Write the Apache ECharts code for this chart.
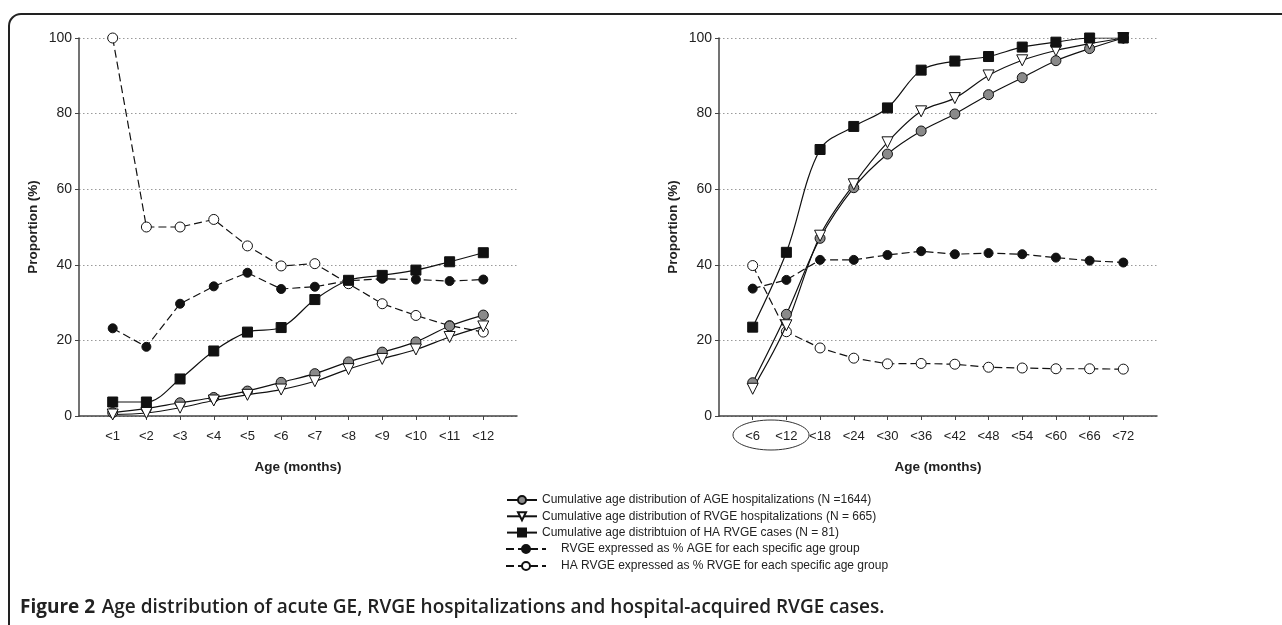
<!DOCTYPE html>
<html>
<head>
<meta charset="utf-8">
<script src="https://cdn.jsdelivr.net/npm/echarts@6/dist/echarts.min.js"></script>
<style>
html,body{margin:0;padding:0;background:#fff;}
#chart{width:1282px;height:625px;}
</style>
</head>
<body>
<div id="chart"></div>
<script>
// ---- Data ----
const leftCats = ['<1','<2','<3','<4','<5','<6','<7','<8','<9','<10','<11','<12'];
const rightCats = ['<6','<12','<18','<24','<30','<36','<42','<48','<54','<60','<66','<72'];
const yTicks = [0, 20, 40, 60, 80, 100];

// Left panel (months 1-12)
const leftAGE   = [0.9, 2.0, 3.5, 4.9, 6.6, 8.9, 11.2, 14.3, 16.9, 19.6, 23.8, 26.7];
const leftRVGE  = [0.4, 0.8, 2.2, 4.1, 5.6, 7.0, 9.2, 12.4, 15.1, 17.6, 20.9, 23.7];
const leftHA    = [3.7, 3.7, 9.8, 17.2, 22.2, 23.4, 30.8, 35.9, 37.2, 38.6, 40.8, 43.2];
const leftRVGEpctAGE = [23.2, 18.3, 29.7, 34.3, 37.9, 33.6, 34.2, 35.8, 36.3, 36.1, 35.7, 36.1];
const leftHApctRVGE  = [100, 50.0, 50.0, 52.0, 45.0, 39.7, 40.3, 35.0, 29.7, 26.6, 23.9, 22.2];

// Right panel (months 6-72)
const rightAGE  = [8.8, 26.9, 47.0, 60.4, 69.3, 75.4, 79.9, 85.0, 89.5, 94.0, 97.2, 100];
const rightRVGE = [7.2, 24.0, 47.7, 61.3, 72.4, 80.6, 84.1, 90.1, 94.1, 96.7, 98.5, 100];
const rightHA   = [23.5, 43.3, 70.5, 76.6, 81.5, 91.5, 93.9, 95.1, 97.6, 98.9, 100, 100];
const rightRVGEpctAGE = [33.7, 36.0, 41.3, 41.3, 42.6, 43.6, 42.8, 43.1, 42.8, 41.9, 41.1, 40.6];
const rightHApctRVGE  = [39.8, 22.3, 18.0, 15.3, 13.8, 13.9, 13.7, 12.9, 12.7, 12.5, 12.5, 12.4];

const names = [
  'Cumulative age distribution of AGE hospitalizations (N =1644)',
  'Cumulative age distribution of RVGE hospitalizations (N = 665)',
  'Cumulative age distribtuion of HA RVGE cases (N = 81)',
  'RVGE expressed as % AGE for each specific age group',
  'HA RVGE expressed as % RVGE for each specific age group'
];
const caption = 'Figure 2';
const captionRest = 'Age distribution of acute GE, RVGE hospitalizations and hospital-acquired RVGE cases.';
const xName = 'Age (months)';
const yName = 'Proportion (%)';

// ---- Chart ----
const chart = echarts.init(document.getElementById('chart'));
const FONT = 'Liberation Sans, Arial, sans-serif';

function pairs(cats, vals){ return cats.map((c,i)=>[c, vals[i]]); }

function xAxisFor(gridIndex, cats){
  return {
    type: 'category', gridIndex: gridIndex, boundaryGap: false,
    data: [''].concat(cats).concat(['']),
    name: xName, nameLocation: 'middle', nameGap: 44,
    nameTextStyle: {fontFamily: FONT, fontWeight: 'bold', fontSize: 13.5, color: '#222'},
    axisLine: {lineStyle: {color: '#444', width: 1.5}},
    axisTick: {show: true, length: 4, lineStyle: {color: '#444'},
      interval: function(i){ return i > 0 && i <= cats.length; }},
    axisLabel: {fontFamily: FONT, fontSize: 13, color: '#222', margin: 14, interval: 0},
    splitLine: {show: false}
  };
}
function yAxisFor(gridIndex){
  return {
    type: 'value', gridIndex: gridIndex, min: yTicks[0], max: yTicks[yTicks.length-1], interval: 20,
    name: yName, nameLocation: 'middle', nameGap: 39,
    nameTextStyle: {fontFamily: FONT, fontWeight: 'bold', fontSize: 13.5, color: '#222'},
    axisLine: {show: true, lineStyle: {color: '#444', width: 1.5}},
    axisTick: {show: true, length: 4, lineStyle: {color: '#444'}},
    axisLabel: {fontFamily: FONT, fontSize: 14, color: '#222', margin: 7},
    splitLine: {show: true, lineStyle: {color: '#9a9a9a', type: [1.5, 2.5], width: 1}}
  };
}

const styles = [
  {symbol: 'circle', symbolSize: 10, color: '#8a8a8a', dashed: false, rotate: 0},
  {symbol: 'triangle', symbolSize: 11, color: '#ffffff', dashed: false, rotate: 180},
  {symbol: 'rect', symbolSize: 10, color: '#111111', dashed: false, rotate: 0},
  {symbol: 'circle', symbolSize: 9, color: '#111111', dashed: true, rotate: 0},
  {symbol: 'circle', symbolSize: 10, color: '#ffffff', dashed: true, rotate: 0}
];

function mkSeries(idx, gi, cats, vals){
  const s = styles[idx];
  return {
    type: 'line', name: names[idx], xAxisIndex: gi, yAxisIndex: gi,
    data: pairs(cats, vals),
    smooth: s.dashed ? false : 0.35,
    symbol: s.symbol, symbolSize: s.symbolSize, symbolRotate: s.rotate,
    showAllSymbol: true,
    itemStyle: {color: s.color, borderColor: '#111', borderWidth: 1},
    lineStyle: {color: '#111', width: 1.2, type: s.dashed ? [8, 4] : 'solid'},
    emphasis: {disabled: true},
    z: idx < 3 ? 3 : 2,
    animation: false
  };
}

const leftSets = [leftAGE, leftRVGE, leftHA, leftRVGEpctAGE, leftHApctRVGE];
const rightSets = [rightAGE, rightRVGE, rightHA, rightRVGEpctAGE, rightHApctRVGE];
const series = [];
leftSets.forEach((v,i)=>series.push(mkSeries(i, 0, leftCats, v)));
rightSets.forEach((v,i)=>series.push(mkSeries(i, 1, rightCats, v)));

const option = {
  backgroundColor: '#fff',
  animation: false,
  grid: [
    {left: 79, top: 38, width: 438, height: 378},
    {left: 719, top: 38, width: 438, height: 378}
  ],
  xAxis: [xAxisFor(0, leftCats), xAxisFor(1, rightCats)],
  yAxis: [yAxisFor(0), yAxisFor(1)],
  legend: [
    {data: names.slice(0,3), orient: 'vertical', left: 501, top: 489, itemWidth: 30, itemHeight: 10, itemGap: 4.3,
     selectedMode: false, textStyle: {fontFamily: FONT, fontSize: 12, color: '#222'}},
    {data: names.slice(3), orient: 'vertical', left: 500, top: 538, itemWidth: 40, itemHeight: 10, itemGap: 5,
     selectedMode: false, textStyle: {fontFamily: FONT, fontSize: 12, color: '#222', padding: [0,0,0,10]}}
  ],
  graphic: [
    {type: 'rect', shape: {x: 9, y: 14, width: 1320, height: 700, r: 12},
     style: {fill: 'none', stroke: '#222', lineWidth: 2}, silent: true},
    {type: 'ellipse', shape: {cx: 771, cy: 435, rx: 38, ry: 15},
     style: {fill: 'none', stroke: '#333', lineWidth: 1}, silent: true},
    {type: 'text', left: 20, top: 598, silent: true,
     style: {text: '{b|' + caption + '}  {n|' + captionRest + '}',
       rich: {
         b: {fontFamily: 'Open Sans, sans-serif', fontWeight: 'bold', fontSize: 19, fill: '#222'},
         n: {fontFamily: 'Open Sans, sans-serif', fontWeight: 600, fontSize: 19, fill: '#222'}
       }}}
  ],
  series: series
};
chart.setOption(option);
</script>
</body>
</html>
